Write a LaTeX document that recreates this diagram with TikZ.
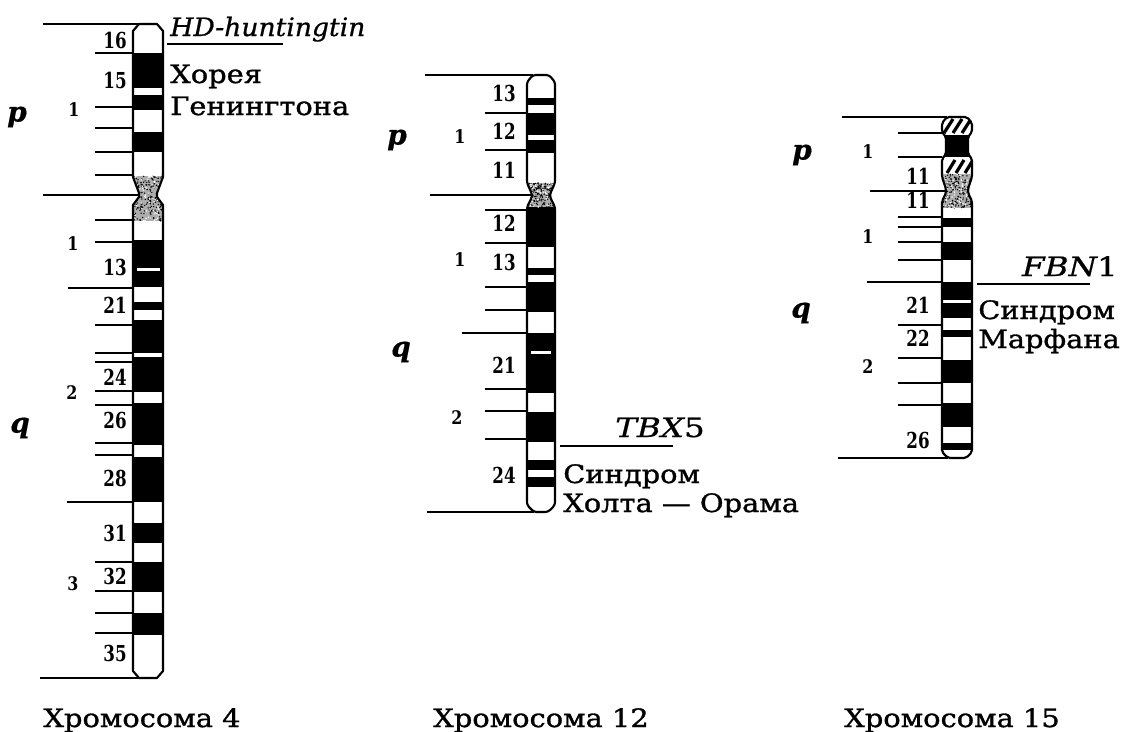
\documentclass[tikz,border=0pt]{standalone}
\usepackage{fontspec}
\setmainfont{DejaVu Serif}
\newfontfamily\txtfont[FakeStretch=1.14,FakeBold=1.2]{DejaVu Serif}
\newfontfamily\genefont[FakeStretch=1.05,FakeBold=0.8]{DejaVu Serif}
\newfontfamily\capgenefont[FakeStretch=1.22,FakeBold=0.8]{DejaVu Serif}
\newfontfamily\bandfont[FakeStretch=0.76]{DejaVu Serif}
\newfontfamily\armfont[FakeStretch=0.85]{DejaVu Serif}
\newfontfamily\pqfont[FakeBold=0.6]{DejaVu Serif}

% stippled (centromere) area: grey ground with random specks
\newcommand\stipplefill[4]{%
  \fill[black!32] (#1,#2) rectangle (#3,#4);
  \foreach \k in {1,...,230}{%
    \pgfmathsetmacro\sx{#1+(#3-#1)*rnd}%
    \pgfmathsetmacro\sy{#2+(#4-#2)*rnd}%
    \fill[black] (\sx,\sy) circle[radius=0.55pt];}%
  \foreach \k in {1,...,90}{%
    \pgfmathsetmacro\sx{#1+(#3-#1)*rnd}%
    \pgfmathsetmacro\sy{#2+(#4-#2)*rnd}%
    \fill[white] (\sx,\sy) circle[radius=0.6pt];}%
}

\tikzset{
  body/.style={line width=1.6pt, line join=round},
  tick/.style={line width=1.5pt},
  bigtick/.style={line width=1.9pt},
  gline/.style={line width=1.1pt},
  hatchstroke/.style={line width=2.4pt},
  bandno/.style={anchor=east, inner sep=0pt, font=\bandfont\bfseries\fontsize{16.5}{17}\selectfont},
  armno/.style={inner sep=0pt, font=\armfont\bfseries\fontsize{14}{14}\selectfont},
  armname/.style={inner sep=0pt, font=\pqfont\bfseries\itshape\fontsize{21}{21}\selectfont},
  txt/.style={anchor=base west, inner sep=0pt, font=\txtfont\fontsize{19}{22}\selectfont},
  gene/.style={inner sep=0pt, font=\genefont\fontsize{19}{22}\selectfont},
  capgene/.style={inner sep=0pt, font=\capgenefont\fontsize{20}{22}\selectfont},
  title/.style={anchor=base, inner sep=0pt, font=\txtfont\fontsize{19}{22}\selectfont},
}

\begin{document}
\begin{tikzpicture}[x=0.75pt,y=-0.75pt]
\pgfmathsetseed{11}
\useasboundingbox (0,0) rectangle (1132,732);
\fill[white] (0,0) rectangle (1132,732);

% ================= Chromosome 4 =================
\def\chrA{(133,31) -- (139,24) -- (157,24) -- (163,31) -- (163,177) -- (157,193) -- (157,197) -- (163,205)
  -- (163,671) -- (157,678) -- (139,678) -- (133,671) -- (133,205) -- (139,197) -- (139,193) -- (133,177) -- cycle}
\begin{scope}
  \clip \chrA;
  \foreach \a/\b in {53/88, 95/110, 132/152, 240/287, 302/310, 320/353, 357/392,
                     403/445, 457/502, 523/543, 562/592, 613/635}
    \fill (130,\a) rectangle (166,\b);
  \fill[white] (137,268) rectangle (160,271);
  \stipplefill{130}{176}{166}{221}
\end{scope}
\draw[body] \chrA;

% ticks
\draw[bigtick] (43,24) -- (139,24);
\draw[bigtick] (43,195) -- (139,195);
\draw[bigtick] (68,288) -- (133,288);
\draw[bigtick] (67,502) -- (133,502);
\draw[bigtick] (40,678) -- (139,678);
\foreach \y in {53,107,128,152,175,220,242,325,353,362,391,405,443,455,562,591,613,633}
  \draw[tick] (95,\y) -- (133,\y);

% labels
\node[armname] (a4p) at (17,117) {p};
\node[armname] (a4q) at (20,428) {q};
\node[armno] (a4r1) at (74,110) {1};
\node[armno] (a4r2) at (73,244) {1};
\node[armno] (a4r3) at (72,393) {2};
\node[armno] (a4r4) at (73,584) {3};
\foreach \n/\y in {16/40, 15/80, 13/267, 21/305, 24/377, 26/420, 28/478, 31/533, 32/576, 35/653}
  \node[bandno] (b4-\n) at (127,\y) {\n};

\node[gene, anchor=base west] (hd) at (170,36) {\itshape HD-huntingtin};
\draw[gline] (167,44) -- (283,44);
\node[txt] (hd1) at (170,83) {Хорея};
\node[txt] (hd2) at (170,115) {Генингтона};

% ================= Chromosome 12 =================
\def\chrB{(527,82) -- (533,75) -- (549,75) -- (555,82) -- (555,183) -- (550,194) -- (550,197) -- (555,207)
  -- (555,505) -- (548,512) -- (534,512) -- (527,505) -- (527,207) -- (532,197) -- (532,194) -- (527,183) -- cycle}
\begin{scope}
  \clip \chrB;
  \foreach \a/\b in {98/105, 113/135, 140/153, 205/247, 268/275, 282/312, 333/393,
                     412/442, 460/470, 477/487}
    \fill (524,\a) rectangle (558,\b);
  \fill[white] (531,351) rectangle (551,354);
  \stipplefill{524}{183}{558}{207}
\end{scope}
\draw[body, rounded corners=2pt] \chrB;

\draw[bigtick] (425,75) -- (533,75);
\draw[bigtick] (430,195) -- (532,195);
\draw[bigtick] (462,333) -- (527,333);
\draw[bigtick] (427,512) -- (534,512);
\foreach \y in {113,150,210,243,287,310,389,411,439}
  \draw[tick] (485,\y) -- (527,\y);

\node[armname] (a12p) at (397,140) {p};
\node[armname] (a12q) at (401,352) {q};
\node[armno] (a12r1) at (460,137) {1};
\node[armno] (a12r2) at (460,260) {1};
\node[armno] (a12r3) at (457,418) {2};
\foreach \n/\y/\t in {13/93/a, 12/131/b, 11/170/c, 12/223/d, 13/262/e, 21/365/f, 24/475/g}
  \node[bandno] (b12-\t) at (516,\y) {\n};

\node[capgene, anchor=base east] (tbx) at (705,437) {\itshape TBX\upshape 5};
\draw[gline] (560,446) -- (673,446);
\node[txt] (tbx1) at (563,483) {Синдром};
\node[txt] (tbx2) at (563,512) {Холта — Орама};

% ================= Chromosome 15 =================
\def\chrC{(942,123) -- (947,117) -- (967,117) -- (972,123) -- (972,132) -- (968,137) -- (968,154) -- (972,159)
  -- (972,177) -- (968,189) -- (968,193) -- (972,201) -- (972,452) -- (966,458) -- (948,458) -- (942,452)
  -- (942,201) -- (946,193) -- (946,189) -- (942,177) -- (942,159) -- (946,154) -- (946,137) -- (942,132) -- cycle}
\begin{scope}
  \clip \chrC;
  \fill (938,135) rectangle (976,157);
  \foreach \a/\b in {218/227, 242/260, 282/300, 303/318, 330/337, 360/383, 403/427, 443/450}
    \fill (938,\a) rectangle (976,\b);
  \stipplefill{938}{174}{976}{208}
  % hatched bands
  \foreach \x in {944,953,962}
    \draw[hatchstroke] (\x,133) -- (\x+9,119);
  \foreach \x in {947,956,965}
    \draw[hatchstroke] (\x,173) -- (\x+8,160);
\end{scope}
\draw[body, rounded corners=1.5pt] \chrC;

\draw[bigtick] (842,117) -- (947,117);
\draw[bigtick] (870,191) -- (946,191);
\draw[bigtick] (867,282) -- (942,282);
\draw[bigtick] (838,458) -- (948,458);
\foreach \y in {133,157,217,227,242,260,325,358,383,405}
  \draw[tick] (898,\y) -- (942,\y);

\node[armname] (a15p) at (802,155) {p};
\node[armname] (a15q) at (801,313) {q};
\node[armno] (a15r1) at (868,152) {1};
\node[armno] (a15r2) at (868,237) {1};
\node[armno] (a15r3) at (868,367) {2};
\foreach \n/\y/\t in {11/176/a, 11/200/b, 21/305/c, 22/338/d, 26/440/e}
  \node[bandno] (b15-\t) at (930,\y) {\n};

\node[capgene, anchor=base east] (fbn) at (1118,276) {\itshape FBN\upshape 1};
\draw[gline] (977,284) -- (1090,284);
\node[txt] (fbn1) at (978,319) {Синдром};
\node[txt] (fbn2) at (978,348) {Марфана};

% ================= captions =================
\node[title] (t4) at (142,727) {Хромосома 4};
\node[title] (t12) at (541,727) {Хромосома 12};
\node[title] (t15) at (952,727) {Хромосома 15};
\end{tikzpicture}
\end{document}
